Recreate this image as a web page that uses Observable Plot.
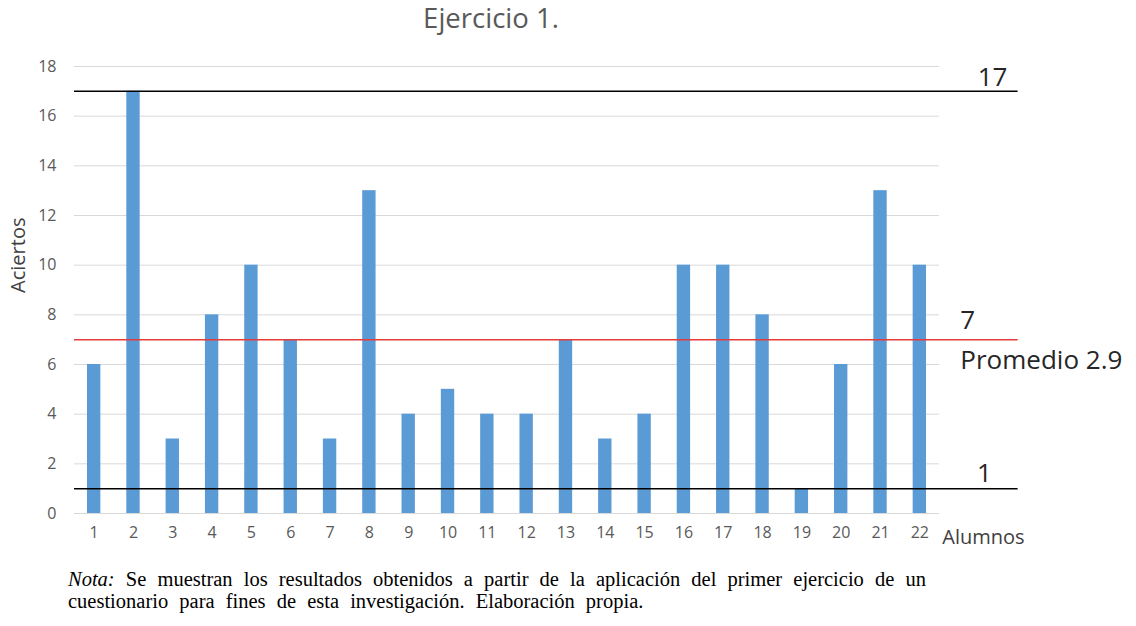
<!DOCTYPE html>
<html>
<head>
<meta charset="utf-8">
<script src="https://cdn.jsdelivr.net/npm/d3@7"></script>
<script src="https://cdn.jsdelivr.net/npm/@observablehq/plot@0.6"></script>
<style>
  html, body { margin: 0; padding: 0; background: #fff; }
  #wrap { position: relative; width: 1136px; height: 626px; }
  #title { position: absolute; top: -1px; left: 0; width: 982px; text-align: center;
           font-family: "Open Sans", sans-serif; font-size: 27.5px; color: #595959; }
  #note { position: absolute; top: 568px; left: 68px; font-family: "Liberation Serif", serif;
          font-size: 20.5px; line-height: 22px; word-spacing: 6px; color: #000; white-space: nowrap; }
</style>
</head>
<body>
<div id="wrap">
  <div id="chart"></div>
  <div id="title">Ejercicio 1.</div>
  <div id="note"><i>Nota:</i> Se muestran los resultados obtenidos a partir de la aplicación del primer ejercicio de un<br>cuestionario para fines de esta investigación. Elaboración propia.</div>
</div>
<script>
// Students (Alumnos) and correct answers (Aciertos) in exercise 1
const alumnos = [1, 2, 3, 4, 5, 6, 7, 8, 9, 10, 11, 12, 13, 14, 15, 16, 17, 18, 19, 20, 21, 22];
const aciertos = [6, 17, 3, 8, 10, 7, 3, 13, 4, 5, 4, 4, 7, 3, 4, 10, 10, 8, 1, 6, 13, 10];
const yTicks = [0, 2, 4, 6, 8, 10, 12, 14, 16, 18];

// Reference lines: maximum, minimum and the "Promedio" line
const maximo = 17;
const minimo = 1;
const lineaPromedio = 7;
const textoPromedio = "Promedio 2.9";

const data = alumnos.map((a, i) => ({alumno: a, aciertos: aciertos[i]}));
const half = 0.17; // half bar width in category units
const font = "'Open Sans', sans-serif";
const tickColor = "#595959";

const chart = Plot.plot({
  width: 1136,
  height: 560,
  marginTop: 66,
  marginBottom: 47,
  marginLeft: 74,
  marginRight: 197,
  style: {fontFamily: font, background: "#fff"},
  x: {domain: [0.5, 22.5], axis: null},
  y: {domain: [0, 18], axis: null},
  marks: [
    // horizontal gridlines
    Plot.ruleY(yTicks, {stroke: "#d9d9d9", strokeWidth: 1}),
    // tick labels, placed through the x and y scales
    Plot.text(yTicks, {y: d => d, frameAnchor: "left", dx: -18, textAnchor: "end", text: d => String(d), fontSize: 16, fill: tickColor}),
    Plot.text(alumnos, {x: d => d, frameAnchor: "bottom", dy: 24, text: d => String(d), fontSize: 16, fill: tickColor}),
    // bars
    Plot.rectY(data, {x1: d => d.alumno - half, x2: d => d.alumno + half, y: "aciertos", fill: "#5b9bd5"}),
    // reference lines
    Plot.ruleY([maximo, minimo], {x1: 0.5, x2: 24.5, stroke: "#000", strokeWidth: 1.5, clip: false}),
    Plot.ruleY([lineaPromedio], {x1: 0.5, x2: 24.5, stroke: "#e63b3b", strokeWidth: 1.5, clip: false}),
    Plot.text([maximo], {x: 23.85, y: d => d, dy: -14, text: d => String(d), fontSize: 26, fill: "#262626", clip: false}),
    Plot.text([minimo], {x: 23.64, y: d => d, dy: -15, text: d => String(d), fontSize: 26, fill: "#262626", clip: false}),
    Plot.text([lineaPromedio], {x: 23.03, y: d => d, dy: -19, text: d => String(d), textAnchor: "start", fontSize: 26, fill: "#262626", clip: false}),
    Plot.text([lineaPromedio], {x: 23.03, y: d => d, dy: 21, text: () => textoPromedio, textAnchor: "start", fontSize: 26, fill: "#262626", clip: false}),
    // axis titles
    Plot.text([0], {x: 22.57, y: d => d, dy: 24, text: () => "Alumnos", textAnchor: "start", fontSize: 20, fill: "#404040", clip: false}),
    Plot.text(["Aciertos"], {x: 0.5, y: 10.4, dx: -56, rotate: -90, textAnchor: "middle", fontSize: 20, fill: "#404040", clip: false})
  ]
});
document.getElementById("chart").appendChild(chart);
</script>
</body>
</html>
